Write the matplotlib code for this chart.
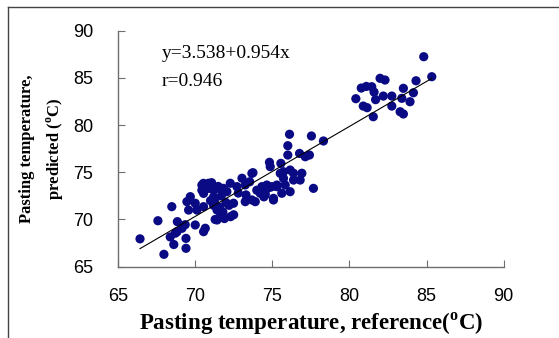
import matplotlib
matplotlib.use("Agg")
import matplotlib.pyplot as plt
from matplotlib.lines import Line2D
import numpy as np

# values
ref_temp = [
    # lower left group
    66.43, 67.59, 68.49, 67.98, 68.62, 69.41, 69.41, 68.39, 68.72, 68.85,
    69.15, 69.36, 70.01, 70.55, 70.66, 68.83, 69.15, 69.47, 69.69, 70.01,
    70.12, 69.58, 70.55, 70.44, 70.87, 71.20, 71.52, 71.31, 71.42, 71.63,
    71.42,
    # 70-73 group
    70.54, 71.07, 70.90, 71.50, 71.84, 72.06, 72.28, 70.44, 70.55, 71.20,
    71.00, 71.30, 71.70, 72.00, 71.60, 72.20, 71.20, 71.80, 71.30, 71.90,
    72.30, 72.50, 72.49, 72.71, 73.04, 73.25, 73.68, 73.25, 73.68, 73.90,
    73.54, 72.80, 73.30, 74.33, 74.54, 74.98, 75.30, 75.08, 75.62, 75.52,
    74.23, 74.58, 74.46, 74.83,
    # 74-78.5 group
    76.12, 77.54, 78.32, 76.01, 76.01, 76.77, 77.14, 77.41, 74.82, 74.87,
    75.56, 73.75, 75.73, 76.16, 76.38, 76.92, 76.81, 76.38, 75.73, 75.84,
    76.16, 77.67, 74.33, 74.65, 75.30, 74.00, 74.22, 74.54, 75.08,
    # upper group
    84.82, 85.34, 81.99, 82.31, 84.32, 83.50, 84.15, 81.45, 81.10, 80.77,
    81.60, 82.20, 82.75, 82.75, 83.40, 83.93, 83.29, 83.50, 81.55, 80.42,
    80.90, 81.15, 81.70,
]
pred_temp = [
    # lower left group
    67.95, 69.87, 71.36, 66.31, 67.35, 66.95, 68.00, 68.15, 68.55, 69.77,
    69.30, 69.45, 69.42, 68.71, 69.07, 68.71, 69.07, 71.89, 72.42, 71.72,
    71.00, 71.00, 71.36, 73.65, 73.84, 73.12, 73.30, 71.54, 71.00, 70.30,
    69.95,
    # 70-73 group
    73.83, 73.90, 73.30, 73.50, 73.30, 72.95, 73.84, 73.10, 72.77, 72.40,
    72.00, 72.20, 72.50, 71.80, 71.30, 71.50, 71.50, 70.80, 70.00, 70.10,
    70.30, 70.50, 71.72, 73.48, 74.37, 73.66, 74.89, 71.89, 72.07, 71.89,
    74.00, 72.80, 72.60, 72.95, 72.78, 73.48, 73.65, 72.07, 72.78, 74.89,
    73.10, 73.50, 72.40, 73.40,
    # 74-78.5 group
    79.03, 78.85, 78.32, 77.82, 76.83, 77.00, 76.65, 76.83, 76.06, 75.60,
    75.95, 74.96, 75.06, 75.24, 74.90, 74.90, 74.18, 74.18, 74.36, 73.65,
    72.95, 73.30, 73.48, 73.65, 73.48, 73.10, 72.78, 72.60, 72.24,
    # upper group
    87.25, 85.13, 84.96, 84.78, 84.70, 83.90, 83.43, 84.07, 84.10, 83.93,
    83.50, 83.08, 83.08, 82.02, 82.84, 82.48, 81.42, 81.18, 80.89, 82.80,
    82.02, 81.85, 82.70,
]
intercept = 3.538
slope = 0.954
r_value = 0.946
ticks = [65, 70, 75, 80, 85, 90]

plt.rcParams["mathtext.fontset"] = "custom"
plt.rcParams["mathtext.rm"] = "Liberation Serif:bold"

fig = plt.figure(figsize=(5.59, 3.38), dpi=100)
ax = fig.add_axes([0.211, 0.211, 0.690, 0.698])

ax.scatter(ref_temp, pred_temp, s=44, color="#0a0a84", edgecolors="none", zorder=3)

xl = np.array([min(ref_temp), max(ref_temp)])
ax.plot(xl, intercept + slope * xl, color="black", lw=0.8, zorder=4)

ax.set_xlim(65, 90)
ax.set_ylim(65, 90)
ax.set_xticks(ticks)
ax.set_yticks(ticks)
for side in ["top", "right"]:
    ax.spines[side].set_visible(False)
for side in ["left", "bottom"]:
    ax.spines[side].set_color("#6e6e6e")
    ax.spines[side].set_linewidth(1.0)
ax.tick_params(axis="x", direction="in", length=5, color="#6e6e6e", pad=15,
               labelsize=13)
ax.tick_params(axis="y", direction="in", length=5, color="#6e6e6e", pad=18,
               labelsize=13)
for lab in ax.get_xticklabels() + ax.get_yticklabels():
    lab.set_family("Liberation Sans")

ax.set_xlabel(r"Pasting temperature, reference($^{\rm o}$C)",
              family="Liberation Serif", fontweight="bold", fontsize=16.5,
              labelpad=4.5)
ax.set_ylabel("Pasting temperature,\n" + r"predicted ($^{\rm o}$C)",
              family="Liberation Serif", fontweight="bold", fontsize=12,
              linespacing=1.6, labelpad=5)

ax.text(0.114, 0.905, "y=%.3f+%.3fx" % (intercept, slope), transform=ax.transAxes,
        family="Liberation Serif", fontsize=14, va="center")
ax.text(0.114, 0.787, "r=%.3f" % r_value, transform=ax.transAxes,
        family="Liberation Serif", fontsize=14, va="center")

# frame cut off by the figure edge
fig.add_artist(Line2D([8 / 559, 8 / 559], [0, 1 - 7 / 338], color="#444444", lw=1))
fig.add_artist(Line2D([8 / 559, 1], [1 - 7 / 338, 1 - 7 / 338], color="#444444", lw=1))

fig.savefig("out.png", dpi=100)
